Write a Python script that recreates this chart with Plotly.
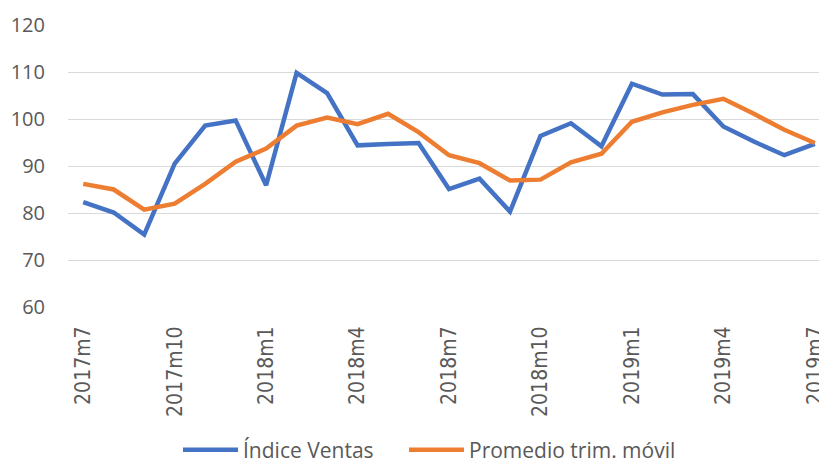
import plotly.graph_objects as go

months = ["2017m7", "2017m8", "2017m9", "2017m10", "2017m11", "2017m12",
          "2018m1", "2018m2", "2018m3", "2018m4", "2018m5", "2018m6",
          "2018m7", "2018m8", "2018m9", "2018m10", "2018m11", "2018m12",
          "2019m1", "2019m2", "2019m3", "2019m4", "2019m5", "2019m6", "2019m7"]
indice_ventas = [82.3, 80.1, 75.4, 90.5, 98.6, 99.7, 85.9, 109.8, 105.5, 94.4, 94.7, 94.9,
                 85.1, 87.3, 80.3, 96.4, 99.1, 94.2, 107.5, 105.2, 105.3, 98.4, 95.2, 92.3, 94.7]
promedio_trim = [86.2, 85.0, 80.7, 82.0, 86.2, 90.9, 93.7, 98.6, 100.3, 98.9, 101.1, 97.2,
                 92.3, 90.6, 86.9, 87.1, 90.8, 92.6, 99.4, 101.4, 103.0, 104.3, 101.1, 97.7, 94.9]
tick_labels = ["2017m7", "2017m10", "2018m1", "2018m4", "2018m7", "2018m10", "2019m1", "2019m4", "2019m7"]
y_ticks = [60, 70, 80, 90, 100, 110, 120]

# page body has an 8px margin, so the figure is sized 8px smaller
W, H = 819, 457
PLOT_H = 282

fig = go.Figure()
fig.add_trace(go.Scatter(x=months, y=indice_ventas, mode="lines", name="Índice Ventas",
                         line=dict(color="#4472C4", width=4.5), legend="legend"))
fig.add_trace(go.Scatter(x=months, y=promedio_trim, mode="lines", name="Promedio trim. móvil",
                         line=dict(color="#ED7D31", width=4.5), legend="legend2"))

legend_font = dict(family="Open Sans", size=21, color="#595959")
legend_y = -143 / PLOT_H
fig.update_layout(
    width=W, height=H,
    margin=dict(l=60, r=0, t=17, b=158, autoexpand=False),
    plot_bgcolor="white", paper_bgcolor="white",
    showlegend=True,
    legend=dict(orientation="h", xref="container", x=170 / W, xanchor="left",
                yref="paper", y=legend_y, yanchor="middle",
                font=legend_font, itemwidth=55, bgcolor="rgba(0,0,0,0)"),
    legend2=dict(orientation="h", xref="container", x=396 / W, xanchor="left",
                 yref="paper", y=legend_y, yanchor="middle",
                 font=legend_font, itemwidth=55, bgcolor="rgba(0,0,0,0)"),
    xaxis=dict(type="category", categoryorder="array", categoryarray=months,
               range=[-0.5, 24.4], tickmode="array", tickvals=tick_labels, ticktext=tick_labels,
               tickangle=-90, showgrid=False, zeroline=False, showline=False,
               tickfont=dict(family="DejaVu Sans Condensed, DejaVu Sans", size=21, color="#595959"),
               ticks="outside", ticklen=10, tickcolor="rgba(0,0,0,0)"),
    yaxis=dict(range=[60, 120], tickvals=y_ticks, showgrid=True, gridcolor="#D9D9D9", gridwidth=1.3,
               zeroline=False, showline=False,
               ticks="outside", ticklen=18, tickcolor="rgba(0,0,0,0)",
               tickfont=dict(family="Open Sans", size=20, color="#595959")),
)

fig.write_html("out.html")
